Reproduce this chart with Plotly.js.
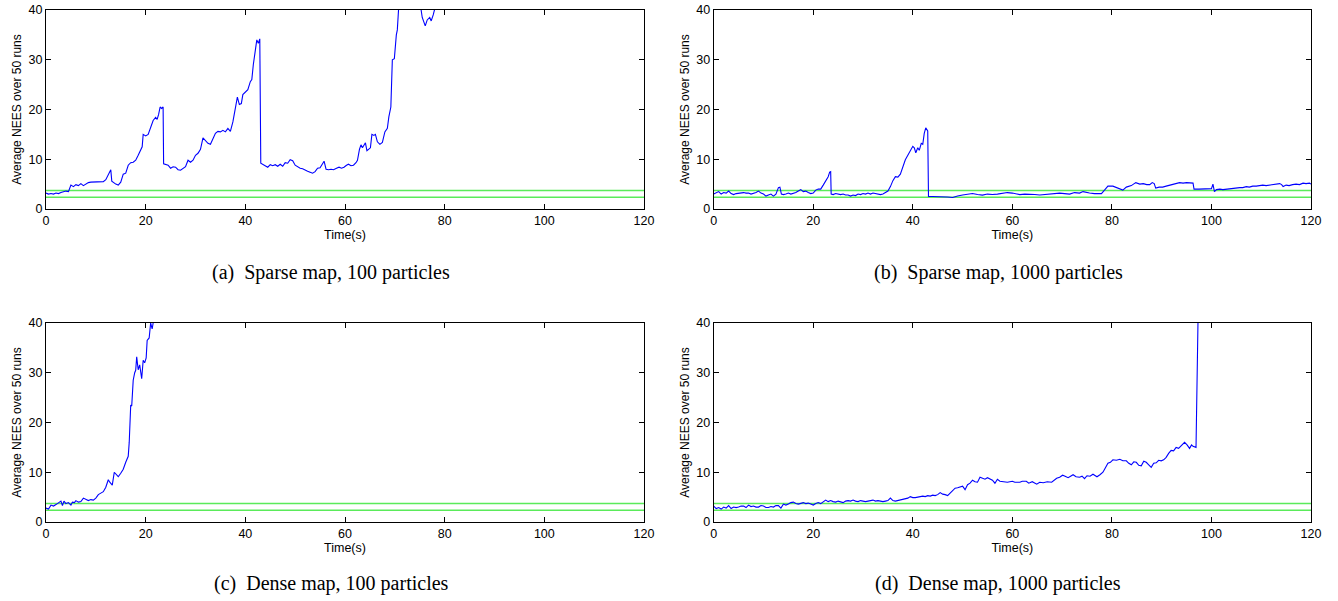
<!DOCTYPE html>
<html>
<head>
<meta charset="utf-8">
<script src="https://cdn.plot.ly/plotly-3.0.1.min.js"></script>
<style>html,body{margin:0;padding:0;background:#fff;}#chart{width:1338px;height:601px;}</style>
</head>
<body>
<div id="chart"></div>
<script>
// ---- data ----
const tA = [0,0.5,1,1.5,2,2.5,3,3.5,4,4.5,4.8,5,5.5,6,6.5,7,7.5,8,8.5,9,9.5,10,10.5,11,11.5,12,12.5,13,13.2,13.5,14,14.5,15,15.5,16,16.5,17,17.5,18,18.5,19,19.3,19.5,20,20.5,21,21.5,22,22.3,22.6,22.9,23.2,23.5,23.6,24,24.5,25,25.5,26,26.5,27,27.5,28,28.5,29,29.5,30,30.5,31,31.5,32,32.5,33,33.5,34,34.5,35,35.5,36,36.5,37,37.5,38,38.4,38.8,39.2,39.5,40,40.5,41,41.3,41.6,42,42.3,42.6,42.9,43.1,43.5,44,44.5,45,45.5,46,46.5,47,47.5,48,48.5,49,49.5,50,50.5,51,51.5,52,52.5,53,53.5,54,54.5,55,55.5,55.8,56.2,56.7,57.2,57.7,58.3,58.8,59.3,59.8,60.3,60.7,61.2,61.7,62.2,62.5,62.9,63.2,63.5,63.8,64.1,64.4,64.8,65.1,65.4,65.8,66.1,66.5,67,67.5,68,68.5,68.8,69.2,69.5,69.9,70.3,70.5,70.8,71.5,72.5,73.5,74.5,75.2,75.5,76.1,76.5,77,77.3,77.7,78.2];
const neesA = [3.2,3.0,3.1,3.0,3.2,3.1,3.3,3.4,3.6,3.5,4.2,4.8,4.5,4.9,4.7,5.1,4.7,5.0,5.3,5.4,5.4,5.5,5.4,5.5,5.5,5.9,6.8,7.9,5.6,5.3,5.0,4.8,5.4,7.0,7.2,8.8,9.3,9.4,9.8,10.8,12.0,12.5,15.0,14.7,15.0,16.5,17.8,18.4,18.0,19.0,20.5,20.2,20.5,9.1,9.0,8.8,8.2,8.5,8.4,7.9,7.8,8.2,8.5,9.8,9.4,9.8,10.8,11.2,12.0,14.3,13.8,13.2,13.0,14.0,15.2,15.6,15.5,15.8,15.5,16.2,15.6,17.5,20.0,22.5,21.0,21.2,23.0,23.5,24.0,25.6,26.0,29.0,31.5,34.0,33.3,34.2,9.2,9.0,8.7,8.4,8.9,8.7,8.9,8.6,9.0,8.6,9.3,9.2,9.9,9.7,8.8,8.5,8.2,8.1,7.8,7.6,7.4,7.2,7.5,8.2,8.3,9.3,9.6,8.0,7.9,8.0,7.9,8.2,8.4,8.2,8.4,8.8,9.0,8.7,8.8,9.3,9.8,12.0,12.9,12.3,12.8,13.3,11.7,12.0,12.3,15.0,14.8,15.0,13.5,13.0,13.4,15.5,16.2,18.5,20.5,30.0,30.2,35.0,36.0,41.0,43.0,44.0,43.0,42.0,40.5,38.5,36.8,38.0,38.5,37.8,39.0,41.0];

const tB = [0,0.5,1,1.5,2,2.5,3,3.5,4,4.5,5,5.5,6,6.5,7,7.5,8,8.5,9,9.5,10,10.5,11,11.5,12,12.5,13,13.3,13.6,14,14.5,15,15.5,16,16.5,17,17.5,18,18.5,19,19.5,20,20.5,21,21.5,22,22.5,23,23.3,23.5,23.6,24,24.5,25,25.5,26,26.5,27,27.5,28,28.5,29,29.5,30,30.5,31,31.5,32,32.5,33,33.5,34,34.5,35,35.5,36,36.5,37,37.5,38,38.5,39,39.5,40,40.3,40.6,41,41.3,41.7,42,42.3,42.6,43,43.15,44,45,46,47,48,48.5,49,50,51,52,53,54,55,56,57,58,59,60,61,61.5,62.5,63.5,64.5,65.5,66.5,67.5,68.5,69.5,70.5,71.5,72.5,73.5,74.2,75,75.5,76.5,77.9,78.6,79.2,80.2,81,81.6,82.2,82.9,83.9,84.8,85.6,86.3,87,87.6,88.1,88.5,88.8,89.5,90.2,90.9,91.6,92.3,93,93.6,94.3,95,96.3,96.5,97.5,99,100,100.3,100.6,101,101.7,102.3,103,103.6,104.3,105,105.7,106.3,107,107.6,108.3,109,109.6,110.3,111,111.6,112.3,113,113.7,114.1,114.4,115,115.6,116.3,117,117.7,118.4,119,119.7,120];
const neesB = [3.0,3.2,3.5,3.0,3.3,3.2,3.6,3.1,2.9,3.1,3.2,3.3,3.3,3.2,3.2,3.0,3.1,3.3,3.6,3.2,3.0,2.6,2.8,3.0,2.6,3.0,4.3,4.4,3.0,2.9,3.0,3.2,3.0,3.1,3.3,3.6,3.9,3.5,3.6,3.3,3.1,3.2,3.8,4.0,4.0,4.8,5.6,6.5,7.4,7.5,3.0,2.9,3.1,3.0,2.9,3.0,2.8,2.8,2.6,2.8,2.7,3.0,2.9,3.1,3.0,3.2,3.0,3.2,3.1,3.0,2.9,3.0,3.3,3.6,4.5,5.7,6.5,6.4,7.0,8.5,9.9,10.8,11.6,12.6,12.3,11.3,12.3,11.8,13.2,13.0,15.2,16.3,15.7,2.5,2.5,2.5,2.5,2.4,2.3,2.5,2.6,2.8,2.9,3.1,2.9,2.8,3.0,2.9,3.0,3.1,3.3,3.2,3.0,2.9,3.0,3.0,2.9,2.8,2.9,2.9,3.0,3.2,3.1,3.0,3.3,3.2,3.5,3.3,3.2,3.1,3.1,3.9,4.6,4.6,4.3,4.0,3.8,4.4,4.7,5.3,5.0,5.1,4.9,4.9,5.3,5.1,4.2,4.4,4.4,4.6,4.8,5.0,5.1,5.3,5.2,5.3,5.2,4.0,4.0,4.0,4.1,5.0,3.5,3.9,4.0,3.9,4.0,4.1,4.2,4.2,4.3,4.3,4.5,4.4,4.6,4.6,4.7,4.8,4.7,4.8,4.9,5.0,5.1,4.9,4.5,4.8,4.7,4.9,5.0,4.9,5.2,5.1,5.2,5.0];

const tC = [0,0.5,1,1.5,2,2.5,3,3.3,3.6,4,4.5,5,5.3,5.7,6,6.5,7,7.5,8,8.5,9,9.5,10,10.5,11,11.5,12,12.5,12.8,13,13.3,13.7,14,14.5,15,15.5,16,16.5,16.7,17,17.2,17.5,17.8,18,18.2,18.5,18.8,19.2,19.5,19.8,20.1,20.3,20.7,21,21.3,21.6,22];
const neesC = [2.8,2.6,3.4,3.2,3.5,3.8,4.2,3.3,4.2,3.7,3.9,3.4,4.0,3.9,4.3,4.0,4.1,4.8,4.6,4.3,4.5,4.4,4.8,5.5,5.8,6.1,7.0,8.5,8.0,7.8,7.4,10.0,9.6,9.1,9.8,10.6,12.0,13.2,16.0,23.5,23.3,28.5,30.0,30.5,33.2,30.6,31.6,28.8,32.5,32.0,33.0,36.5,37.0,40.0,38.8,41.0,43.0];

const tD = [0,0.5,1,1.5,2,2.5,3,3.5,4,4.5,5,5.5,6,6.5,7,7.5,8,8.5,9,9.5,10,10.5,11,11.5,12,12.5,13,13.5,14,14.5,15,15.5,16,16.5,17,17.5,18,18.5,19,19.5,20,20.5,21,21.5,22,22.5,23,23.5,24,24.5,25,25.5,26,26.5,27,27.5,28,28.5,29,29.5,30,30.5,31,31.5,32,32.5,33,33.5,34,34.5,35,35.5,36,36.5,37,37.5,38,38.5,39,39.5,40,40.5,41,41.5,42,42.5,43,43.5,44,44.5,45,45.5,46,46.5,47,47.5,48,48.5,49,49.5,50,50.5,51,51.5,52,52.5,53,53.5,54,54.5,55,55.5,56,56.5,57,57.5,58,58.5,59,59.5,60,60.5,61,61.5,62,62.8,63.3,64,64.9,65.5,66.2,67,67.9,68.5,68.9,69.5,70.1,70.6,71.2,71.7,72.2,72.8,73.5,74,74.5,75,75.6,76.2,77,77.6,78.2,78.7,79.2,79.7,80.2,80.9,81.6,82.2,82.9,83.4,83.9,84.4,84.9,85.4,85.9,86.4,86.9,87.4,87.9,88.4,88.9,89.4,89.9,90.4,90.9,91.4,91.9,92.4,92.9,93.4,93.9,94.3,94.6,95.1,95.6,96,96.3,96.9,97.3];
const neesD = [3.2,2.7,2.9,2.6,3.0,2.8,3.3,2.7,3.0,2.9,3.0,3.2,3.2,2.9,3.4,3.1,3.2,3.0,3.0,3.3,3.2,2.9,2.9,3.1,3.0,3.3,3.3,2.8,3.6,3.4,3.6,3.9,4.0,3.7,3.6,3.8,3.9,3.7,3.8,3.6,3.4,3.7,3.9,3.7,4.0,4.4,4.1,4.3,4.1,4.0,4.2,4.1,3.9,4.2,4.3,4.2,4.4,4.2,4.1,4.3,4.2,4.1,4.2,4.3,4.4,4.2,4.3,4.2,4.1,4.2,4.3,4.8,4.3,4.2,4.3,4.5,4.6,4.7,4.8,5.1,4.9,4.9,5.0,5.1,5.2,5.1,5.3,5.2,5.4,5.3,5.5,5.9,5.6,5.5,5.3,5.8,6.4,6.8,6.9,7.0,7.2,6.5,7.5,7.8,8.4,8.1,8.0,9.0,8.8,8.6,8.9,8.6,8.4,7.8,8.6,8.2,8.1,8.0,8.0,8.1,8.2,8.0,8.0,8.0,8.2,8.2,7.8,8.1,7.6,8.0,7.9,8.1,8.0,8.4,8.8,9.0,9.4,9.2,8.9,9.2,9.5,9.1,9.0,9.2,8.7,9.3,9.2,9.6,9.1,9.5,10.0,10.9,11.8,12.0,12.5,12.4,12.6,12.3,12.3,11.8,11.5,12.1,12.0,11.4,11.3,12.2,12.0,11.5,11.0,11.8,11.9,12.4,12.3,12.5,13.0,13.8,14.4,14.3,15.0,14.8,15.3,15.6,16.0,15.5,14.8,15.5,15.2,15.0,40.5];

const boundX = [0, 120];
const boundLow = [2.36, 2.36];
const boundHigh = [3.72, 3.72];

const captions = ["(a)  Sparse map, 100 particles", "(b)  Sparse map, 1000 particles",
                  "(c)  Dense map, 100 particles", "(d)  Dense map, 1000 particles"];
const xTicks = [0, 20, 40, 60, 80, 100, 120];
const yTicks = [0, 10, 20, 30, 40];
const xTitle = "Time(s)";
const yTitle = "Average NEES over 50 runs";

// ---- figure ----
const W = 1338, H = 601;
const series = [[tA, neesA], [tB, neesB], [tC, neesC], [tD, neesD]];
const xDom = [[46 / W, 644 / W], [713.7 / W, 1311 / W]];
const yDom = [[(H - 209) / H, (H - 10) / H], [(H - 522) / H, (H - 323) / H]];

const traces = [];
const layout = {
  width: W, height: H,
  margin: {l: 0, r: 0, t: 0, b: 0},
  paper_bgcolor: "#fff", plot_bgcolor: "#fff",
  showlegend: false,
  font: {family: "Liberation Sans, Arial, sans-serif", color: "#000", size: 12},
  annotations: []
};
const capX = [331, 998];
const capY = [272, 583];

series.forEach((s, i) => {
  const col = i % 2, row = Math.floor(i / 2);
  const xa = i === 0 ? "x" : "x" + (i + 1);
  const ya = i === 0 ? "y" : "y" + (i + 1);
  const xk = i === 0 ? "xaxis" : "xaxis" + (i + 1);
  const yk = i === 0 ? "yaxis" : "yaxis" + (i + 1);
  const lineCol = "rgb(90,235,90)";
  traces.push({x: boundX, y: boundHigh, xaxis: xa, yaxis: ya, mode: "lines", line: {color: lineCol, width: 1.7}, hoverinfo: "skip"});
  traces.push({x: boundX, y: boundLow, xaxis: xa, yaxis: ya, mode: "lines", line: {color: lineCol, width: 1.7}, hoverinfo: "skip"});
  traces.push({x: s[0], y: s[1], xaxis: xa, yaxis: ya, mode: "lines", line: {color: "#0000ff", width: 1.1}, cliponaxis: true});
  layout[xk] = {
    domain: xDom[col], anchor: ya, range: [0, 120], tickvals: xTicks, ticktext: xTicks.map(String),
    ticks: "inside", ticklen: 5, tickcolor: "#000", showline: true, linecolor: "#000", linewidth: 1,
    mirror: "ticks", showgrid: false, zeroline: false, tickfont: {size: 12.5},
    title: {text: xTitle, font: {size: 12.5}, standoff: 2}, automargin: false, fixedrange: true
  };
  layout[yk] = {
    domain: yDom[row], anchor: xa, range: [0, 40], tickvals: yTicks, ticktext: yTicks.map(String),
    ticks: "inside", ticklen: 5, tickcolor: "#000", showline: true, linecolor: "#000", linewidth: 1,
    mirror: "ticks", showgrid: false, zeroline: false, tickfont: {size: 12.5},
    title: {text: yTitle, font: {size: 12}, standoff: 4}, automargin: false, fixedrange: true
  };
  layout.annotations.push({
    xref: "paper", yref: "paper", x: capX[col] / W, y: (H - capY[row]) / H,
    xanchor: "center", yanchor: "middle", showarrow: false, text: captions[i],
    font: {family: "Liberation Serif, Times New Roman, serif", size: 20, color: "#000"}
  });
});

Plotly.newPlot("chart", traces, layout, {displayModeBar: false, staticPlot: true});
</script>
</body>
</html>
